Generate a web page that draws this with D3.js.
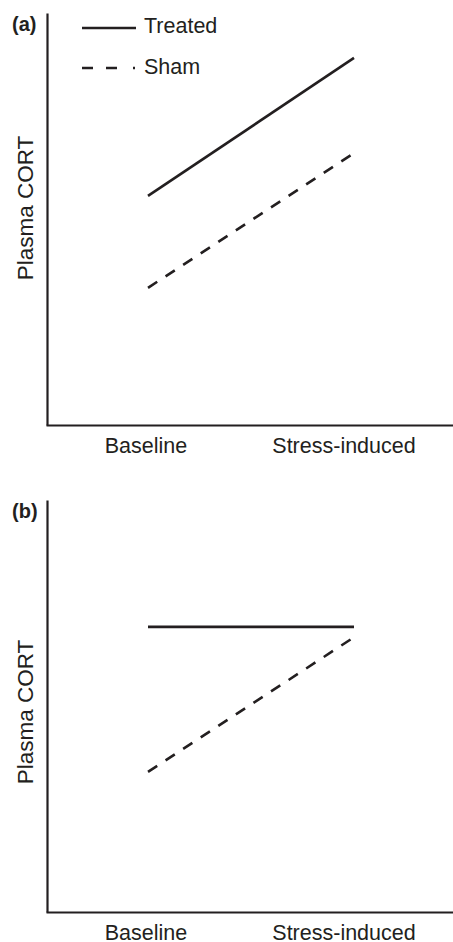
<!DOCTYPE html>
<html><head><meta charset="utf-8">
<script src="https://cdn.jsdelivr.net/npm/d3@7"></script>
<style>body{margin:0;background:#fff}svg{display:block}text{font-family:"Liberation Sans",Arial,sans-serif;fill:#231f20}</style>
</head><body><div id="chart"></div>
<script>
const categories = ["Baseline", "Stress-induced"];
const panelLabels = ["(a)", "(b)"];
const yLabel = "Plasma CORT";
const seriesNames = ["Treated", "Sham"];
const treatedA = [0.556, 0.891];
const shamA = [0.333, 0.660];
const treatedB = [0.692, 0.692];
const shamB = [0.340, 0.667];

const panels = [
  {label: panelLabels[0], treated: treatedA, sham: shamA, top: 13, legend: true, ylab: 208},
  {label: panelLabels[1], treated: treatedB, sham: shamB, top: 500, legend: false, ylab: 712}
];

const W = 453, H = 942;
const svg = d3.select("#chart").append("svg").attr("width", W).attr("height", H);
const axisX = 47, plotH = 412;
const col = "#231f20";

panels.forEach(p => {
  const g = svg.append("g");
  const y = d3.scaleLinear().domain([0, 1]).range([p.top + plotH, p.top]);
  const xLab = d3.scaleBand().domain(categories).range([axisX, 443]);
  const xPt = d3.scalePoint().domain(categories).range([148, 354]);

  const yAxis = d3.axisLeft(y).tickValues([]).tickSize(0);
  g.append("g").attr("transform", `translate(${axisX},0)`).call(yAxis)
    .select(".domain").attr("stroke", col).attr("stroke-width", 2.2);
  const xAxis = d3.axisBottom(d3.scaleLinear().domain([0,1]).range([axisX - 1, W])).tickValues([]).tickSize(0);
  g.append("g").attr("transform", `translate(0,${p.top + plotH})`).call(xAxis)
    .select(".domain").attr("stroke", col).attr("stroke-width", 2.2);

  g.selectAll(".cat").data(categories).enter().append("text")
    .attr("x", d => xLab(d) + xLab.bandwidth() / 2)
    .attr("y", p.top + plotH + 28)
    .attr("text-anchor", "middle").attr("font-size", 21.5).text(d => d);

  g.append("text").attr("transform", `translate(33,${p.ylab}) rotate(-90)`)
    .attr("text-anchor", "middle").attr("font-size", 22.5).text(yLabel);

  g.append("text").attr("x", 12).attr("y", p.top + 18)
    .attr("font-size", 20).attr("font-weight", "bold").text(p.label);

  const line = d3.line().x((d, i) => xPt(categories[i])).y(d => y(d));
  g.append("path").datum(p.treated).attr("d", line).attr("fill", "none")
    .attr("stroke", col).attr("stroke-width", 2.6);
  g.append("path").datum(p.sham).attr("d", line).attr("fill", "none")
    .attr("stroke", col).attr("stroke-width", 2.6).attr("stroke-dasharray", "11,10");

  if (p.legend) {
    const lg = g.append("g");
    lg.append("line").attr("x1", 82).attr("x2", 136).attr("y1", 28).attr("y2", 28)
      .attr("stroke", col).attr("stroke-width", 2.6);
    lg.append("text").attr("x", 144).attr("y", 33).attr("font-size", 21.5).text(seriesNames[0]);
    lg.append("line").attr("x1", 82).attr("x2", 135).attr("y1", 68).attr("y2", 68)
      .attr("stroke", col).attr("stroke-width", 2.6).attr("stroke-dasharray", "11,13,11,16,2");
    lg.append("text").attr("x", 144).attr("y", 74).attr("font-size", 21.5).text(seriesNames[1]);
  }
});
</script></body></html>
